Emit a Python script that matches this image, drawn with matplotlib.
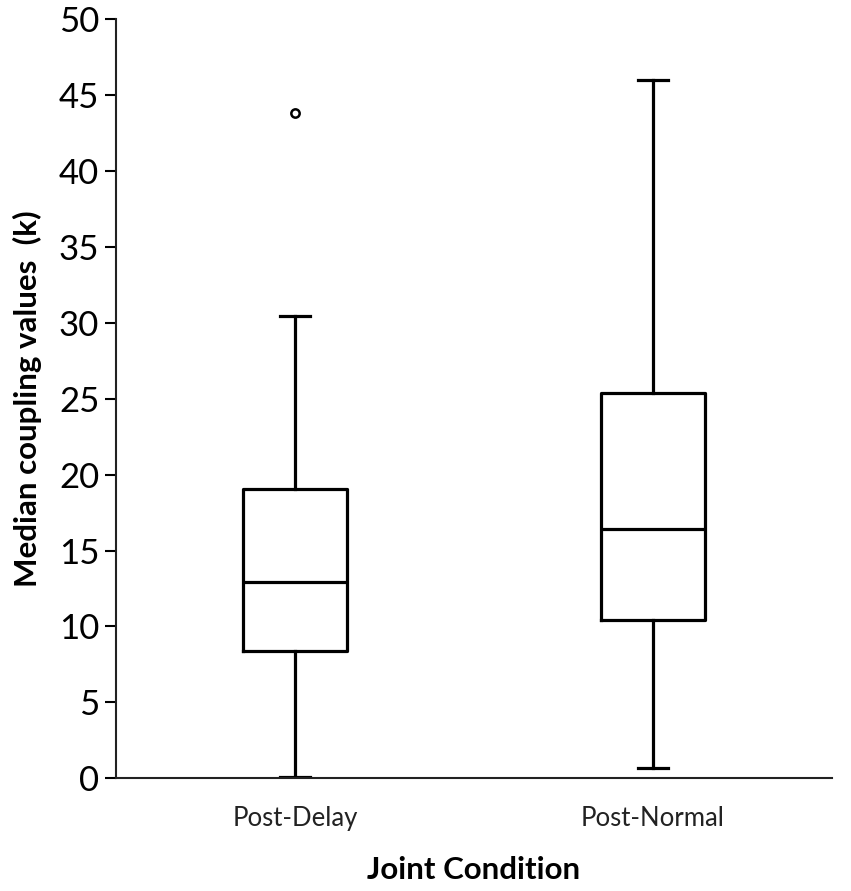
import matplotlib
matplotlib.use("Agg")
from matplotlib import pyplot as plt

plt.rcParams["font.family"] = ["Lato", "DejaVu Sans"]

conditions = ["Post-Delay", "Post-Normal"]
whisker_low = [0.1, 0.7]
q1 = [8.4, 10.4]
medians = [12.95, 16.4]
q3 = [19.05, 25.4]
whisker_high = [30.45, 46.0]
outliers = [[43.85], []]

stats = []
for i, name in enumerate(conditions):
    stats.append({
        "label": name,
        "whislo": whisker_low[i],
        "q1": q1[i],
        "med": medians[i],
        "q3": q3[i],
        "whishi": whisker_high[i],
        "fliers": outliers[i],
    })

fig = plt.figure(figsize=(8.51, 8.91), dpi=100)
ax = fig.add_axes([0.1363, 0.1265, 0.8414, 0.8518])

lw = 2.3
ax.bxp(stats, positions=[1, 2], widths=0.29, capwidths=0.084,
       boxprops=dict(color="black", linewidth=lw),
       whiskerprops=dict(color="black", linewidth=lw),
       capprops=dict(color="black", linewidth=lw),
       medianprops=dict(color="black", linewidth=lw),
       flierprops=dict(marker="o", markersize=6, markerfacecolor="white",
                       markeredgecolor="black", markeredgewidth=1.8))

ax.set_xlim(0.5, 2.5)
ax.set_ylim(0, 50)
ax.set_yticks(range(0, 51, 5))
ax.tick_params(axis="y", labelsize=25, length=8, width=1.5, pad=4)
ax.tick_params(axis="x", labelsize=18.5, length=0, pad=20)
ax.set_xticks([1, 2])
ax.set_xticklabels(conditions, color="#222222")

for side in ["top", "right"]:
    ax.spines[side].set_visible(False)
for side in ["left", "bottom"]:
    ax.spines[side].set_linewidth(1.5)
    ax.spines[side].set_color("#222222")

ax.set_ylabel("Median coupling values  (k)", fontsize=22.5, fontweight="bold", labelpad=12)
ax.set_xlabel("Joint Condition", fontsize=22.5, fontweight="bold", labelpad=18)

plt.savefig("out.png", dpi=100)
plt.close()
